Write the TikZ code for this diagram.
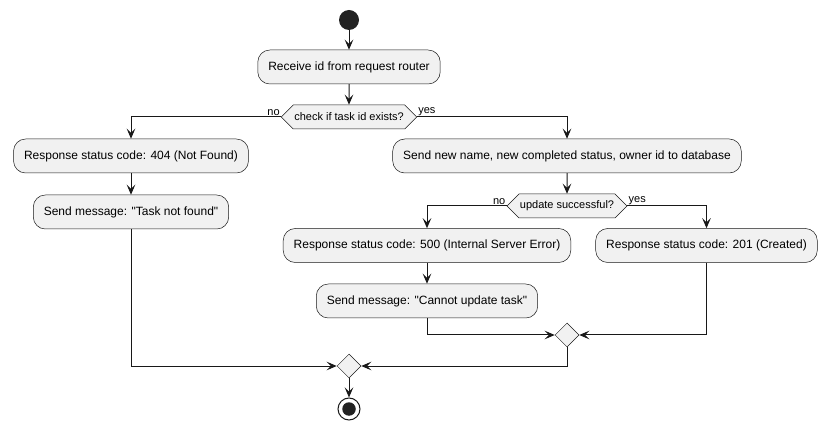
\documentclass[tikz,border=0pt]{standalone}
\usepackage{fontspec}
\setmainfont{Liberation Sans}[Ligatures=TeXOff]
\usetikzlibrary{arrows.meta,shapes.symbols,shapes.geometric}
\definecolor{boxfill}{HTML}{F1F1F1}
\definecolor{ink}{HTML}{181818}
\definecolor{dot}{HTML}{222222}
\begin{document}
\begin{tikzpicture}[x=1pt,y=-1pt,
  act/.style={draw=ink, fill=boxfill, line width=0.5pt, rounded corners=12pt,
    minimum height=34pt, inner xsep=10.5pt, inner ysep=0pt,
    font=\fontsize{12}{14}\selectfont},
  hexa/.style={draw=ink, fill=boxfill, line width=0.5pt, shape=signal,
    signal to=west and east, signal pointer angle=90, minimum height=24pt,
    inner xsep=1pt, inner ysep=0pt, font=\fontsize{11}{13}\selectfont},
  merge/.style={draw=ink, fill=boxfill, line width=0.5pt, shape=diamond,
    minimum width=24pt, minimum height=24pt, inner sep=0pt},
  lbl/.style={inner sep=1pt, font=\fontsize{11}{13}\selectfont},
  arr/.style={draw=ink, line width=1pt, -{Stealth[length=10pt,width=8.5pt,inset=4pt]}},
  ln/.style={draw=ink, line width=1pt}
]
\useasboundingbox (0,0) rectangle (830,430);

\node[circle, fill=dot, minimum size=20pt, inner sep=0pt] (start) at (349,20) {};
\node[act] (b1) at (349,67) {Receive id from request router};
\node[hexa, minimum width=135pt] (h1) at (349,117) {check if task id exists?};
\node[lbl, anchor=south east] at (h1.west) {no};
\node[lbl, anchor=south west] at (h1.east) {yes};

\node[act] (b404) at (131,156) {Response status code: 404 (Not Found)};
\node[act] (btnf) at (131,212) {Send message: "Task not found"};

\node[act] (bsend) at (567,156) {Send new name, new completed status, owner id to database};
\node[hexa, minimum width=120pt] (h2) at (567,206) {update successful?};
\node[lbl, anchor=south east] at (h2.west) {no};
\node[lbl, anchor=south west] at (h2.east) {yes};

\node[act] (b500) at (427,245.5) {Response status code: 500 (Internal Server Error)};
\node[act] (bcan) at (427,301) {Send message: "Cannot update task"};
\node[act] (b201) at (706.5,245.5) {Response status code: 201 (Created)};

\node[merge] (m2) at (567,335) {};
\node[merge] (m1) at (349,366) {};

\node[circle, draw=ink, line width=1pt, fill=white, minimum size=22pt, inner sep=0pt] (stop) at (349,409) {};
\node[circle, fill=dot, minimum size=13.5pt, inner sep=0pt] (stopin) at (stop.center) {};

\draw[arr] (start) -- (b1);
\draw[arr] (b1) -- (h1);
\draw[arr] (h1.west) -| (b404.north);
\draw[arr] (h1.east) -| (bsend.north);
\draw[arr] (b404) -- (btnf);
\draw[arr] (btnf.south) |- (m1.west);
\draw[arr] (bsend) -- (h2);
\draw[arr] (h2.west) -| (b500.north);
\draw[arr] (h2.east) -| (b201.north);
\draw[arr] (b500) -- (bcan);
\draw[arr] (bcan.south) |- (m2.west);
\draw[arr] (b201.south) |- (m2.east);
\draw[arr] (m2.south) |- (m1.east);
\draw[arr] (m1) -- (stop);
\end{tikzpicture}
\end{document}
